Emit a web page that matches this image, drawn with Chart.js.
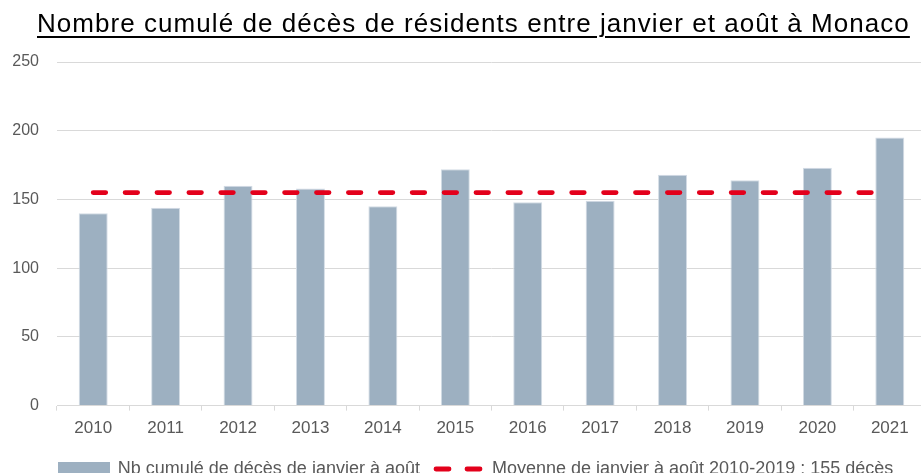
<!DOCTYPE html>
<html lang="fr">
<head>
<meta charset="utf-8">
<script src="https://cdn.jsdelivr.net/npm/chart.js@4/dist/chart.umd.min.js"></script>
<style>
  html, body { margin: 0; padding: 0; background: #fff; overflow: hidden; }
  #wrap { position: relative; width: 952px; height: 488px; }
  #titre {
    position: absolute; left: 37px; top: 10px; margin: 0;
    font: 26px "Liberation Sans", Arial, sans-serif; line-height: 26px;
    letter-spacing: 1.05px; color: #000; white-space: nowrap;
    text-decoration: underline; text-decoration-thickness: 2px; text-underline-offset: 4px;
  }
</style>
</head>
<body>
<div id="wrap">
  <canvas id="chart" width="952" height="488"></canvas>
  <div id="titre">Nombre cumulé de décès de résidents entre janvier et août à Monaco</div>
</div>
<script>
// données
const annees = ["2010", "2011", "2012", "2013", "2014", "2015", "2016", "2017", "2018", "2019", "2020", "2021"];
const deces = [140, 144, 160, 158, 145, 172, 148, 149, 168, 164, 173, 195];
const moyenne = [155, 155, 155, 155, 155, 155, 155, 155, 155, 155, 155, 155];
const yTicks = [0, 50, 100, 150, 200, 250];

const gris = "#9db0c1";
const rouge = "#e3001b";
const police = '"Liberation Sans", Arial, sans-serif';

// petites images pour la légende
function iconeBarre() {
  const c = document.createElement("canvas");
  c.width = 52; c.height = 14;
  const g = c.getContext("2d");
  g.fillStyle = gris;
  g.fillRect(0, 0, 52, 14);
  return c;
}
function iconeTirets() {
  const c = document.createElement("canvas");
  c.width = 50; c.height = 6;
  const g = c.getContext("2d");
  g.strokeStyle = rouge;
  g.lineWidth = 4.8;
  g.lineCap = "round";
  g.beginPath();
  g.moveTo(3, 3); g.lineTo(16, 3);
  g.moveTo(34, 3); g.lineTo(47, 3);
  g.stroke();
  return c;
}

// décale la légende de quelques pixels vers la droite
const decalageLegende = {
  id: "decalageLegende",
  afterLayout(chart) {
    chart.legend.left += 7;
    chart.legend.right += 7;
  },
};

const ctx = document.getElementById("chart").getContext("2d");
new Chart(ctx, {
  type: "bar",
  data: {
    labels: annees,
    datasets: [
      {
        type: "line",
        label: "Moyenne de janvier à août 2010-2019 : 155 décès",
        data: moyenne,
        borderColor: rouge,
        borderWidth: 4.8,
        borderDash: [12.5, 19.4],
        borderCapStyle: "round",
        pointRadius: 0,
        fill: false,
        order: 0,
      },
      {
        label: "Nb cumulé de décès de janvier à août",
        data: deces,
        backgroundColor: gris,
        borderColor: "#d3dce5",
        borderWidth: 1,
        categoryPercentage: 1,
        barPercentage: 0.4,
        order: 1,
      },
    ],
  },
  options: {
    responsive: false,
    animation: false,
    layout: { padding: { left: 12, right: 26, top: 62, bottom: 0 } },
    scales: {
      x: {
        offset: true,
        grid: { display: true, drawOnChartArea: false, drawTicks: true, tickLength: 5, color: "#d9d9d9", offset: true },
        border: { display: true, color: "#d9d9d9", width: 1 },
        ticks: { color: "#595959", font: { family: police, size: 17 }, padding: 8, maxRotation: 0 },
      },
      y: {
        min: 0,
        max: 250,
        afterBuildTicks: (scale) => { scale.ticks = yTicks.map((v) => ({ value: v })); },
        afterFit: (scale) => { scale.width = 45; },
        grid: { color: "#d9d9d9", drawTicks: false, lineWidth: 1 },
        border: { display: false },
        ticks: { color: "#595959", font: { family: police, size: 16 }, padding: 18 },
      },
    },
    plugins: {
      title: { display: false },
      tooltip: { enabled: false },
      legend: {
        position: "bottom",
        reverse: true,
        labels: {
          usePointStyle: true,
          pointStyleWidth: 50,
          padding: 13,
          color: "#595959",
          font: { family: police, size: 18 },
          generateLabels: (chart) => {
            const items = Chart.defaults.plugins.legend.labels.generateLabels(chart);
            items.forEach((it) => {
              it.pointStyle = it.datasetIndex === 0 ? iconeTirets() : iconeBarre();
            });
            return items;
          },
        },
      },
    },
  },
  plugins: [decalageLegende],
});
</script>
</body>
</html>
